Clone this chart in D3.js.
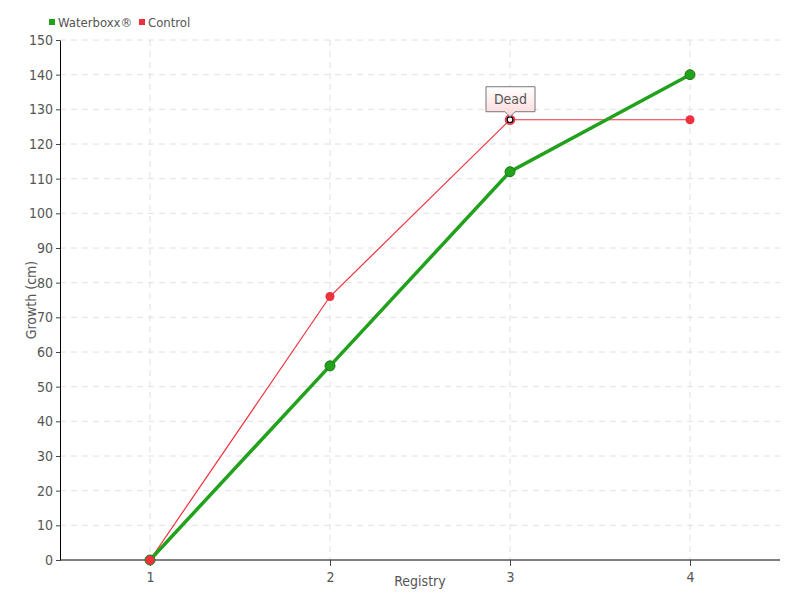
<!DOCTYPE html>
<html><head><meta charset="utf-8">
<script src="https://cdn.jsdelivr.net/npm/d3@7"></script>
<style>
body{margin:0;background:#fff;}
text{font-family:"DejaVu Sans Condensed","Liberation Sans Narrow","Roboto",sans-serif;font-stretch:condensed;}
</style></head>
<body><svg id="c" width="800" height="600"></svg>
<script>
const categories = ["1","2","3","4"];
const waterboxx = [0, 56, 112, 140];
const control = [0, 76, 127, 127];
const yTicks = [0,10,20,30,40,50,60,70,80,90,100,110,120,130,140,150];
const seriesNames = ["Waterboxx®","Control"];
const annotationText = "Dead";
const annotationIndex = 2;

const svg = d3.select("#c");
const m = {l:60, r:20, t:40, b:40};
const W = 800, H = 600;
const x = d3.scalePoint().domain(categories).range([m.l, W-m.r]).padding(0.5);
const y = d3.scaleLinear().domain([0,150]).range([H-m.b, m.t]);

const green = "#22a21c", greenDark = "#1a7a14", red = "#f0303c";

// grid
svg.append("g").selectAll("line").data(yTicks.filter(d=>d>0)).join("line")
  .attr("x1", m.l).attr("x2", W-m.r).attr("y1", d=>y(d)).attr("y2", d=>y(d))
  .attr("stroke","#e0e0e0").attr("stroke-dasharray","6,5");
svg.append("g").selectAll("line").data(categories).join("line")
  .attr("x1", d=>x(d)).attr("x2", d=>x(d)).attr("y1", m.t).attr("y2", H-m.b)
  .attr("stroke","#e0e0e0").attr("stroke-dasharray","6,5");

// axes
const ya = svg.append("g").attr("transform",`translate(${m.l},0)`)
  .call(d3.axisLeft(y).tickValues(yTicks).tickSize(4).tickSizeOuter(0));
const xa = svg.append("g").attr("transform",`translate(0,${H-m.b})`)
  .call(d3.axisBottom(x).tickSize(6).tickSizeOuter(0));
[ya,xa].forEach(a=>{
  a.select(".domain").attr("stroke","#000");
  a.selectAll(".tick line").attr("stroke","#444");
  a.selectAll("text").attr("fill","#555").attr("font-size",14);
});
xa.select(".domain").attr("d",`M${m.l},0H${W-m.r}`);
xa.selectAll("text").attr("dy","0.9em");

// axis titles
svg.append("text").attr("x", (m.l+W-m.r)/2).attr("y", 586).attr("text-anchor","middle")
  .attr("fill","#555").attr("font-size",14).text("Registry");
svg.append("text").attr("transform","translate(36,300) rotate(-90)").attr("text-anchor","middle")
  .attr("fill","#555").attr("font-size",14).text("Growth (cm)");

// lines
const line = d3.line().x((d,i)=>x(categories[i])).y(d=>y(d));
svg.append("path").datum(control).attr("d",line).attr("fill","none").attr("stroke",red).attr("stroke-width",1.2);
svg.append("path").datum(waterboxx).attr("d",line).attr("fill","none").attr("stroke",green).attr("stroke-width",3.5);

// points
svg.append("g").selectAll("circle").data(waterboxx).join("circle")
  .attr("cx",(d,i)=>x(categories[i])).attr("cy",d=>y(d)).attr("r",5)
  .attr("fill",green).attr("stroke",greenDark).attr("stroke-width",1);
svg.append("g").selectAll("circle").data(control).join("circle")
  .attr("cx",(d,i)=>x(categories[i])).attr("cy",d=>y(d))
  .attr("fill",(d,i)=>i===annotationIndex?"#fff":red)
  .attr("stroke",(d,i)=>i===annotationIndex?"#000":"none")
  .attr("stroke-width",1.5)
  .attr("r",(d,i)=>i===annotationIndex?3:4.5);
// red ring around annotated point
svg.append("circle").attr("cx",x(categories[annotationIndex])).attr("cy",y(control[annotationIndex]))
  .attr("r",4.5).attr("fill","none").attr("stroke",red).attr("stroke-width",1.5);

// annotation box
const defs = svg.append("defs");
const g = defs.append("linearGradient").attr("id","tg").attr("x1",0).attr("y1",0).attr("x2",0).attr("y2",1);
g.append("stop").attr("offset","0%").attr("stop-color","#fff");
g.append("stop").attr("offset","100%").attr("stop-color","#fcd8d8");
const ax = x(categories[annotationIndex]), ay = y(control[annotationIndex]);
const bw = 49, bh = 25, bx = ax-24, by = ay-33;
svg.append("path")
  .attr("d",`M${bx},${by}H${bx+bw}V${by+bh}H${ax+5}L${ax},${ay-3}L${ax-5},${by+bh}H${bx}Z`)
  .attr("fill","url(#tg)").attr("stroke","#777").attr("stroke-width",1);
svg.append("text").attr("x",ax+0.5).attr("y",by+17).attr("text-anchor","middle")
  .attr("fill","#555").attr("font-size",14).text(annotationText);

// legend
const leg = [{n:seriesNames[0],c:green,x:49},{n:seriesNames[1],c:red,x:139}];
leg.forEach(l=>{
  svg.append("rect").attr("x",l.x).attr("y",19).attr("width",6).attr("height",6).attr("fill",l.c);
  svg.append("text").attr("x",l.x+9).attr("y",27).attr("fill","#555").attr("font-size",13).text(l.n);
});
</script></body></html>
